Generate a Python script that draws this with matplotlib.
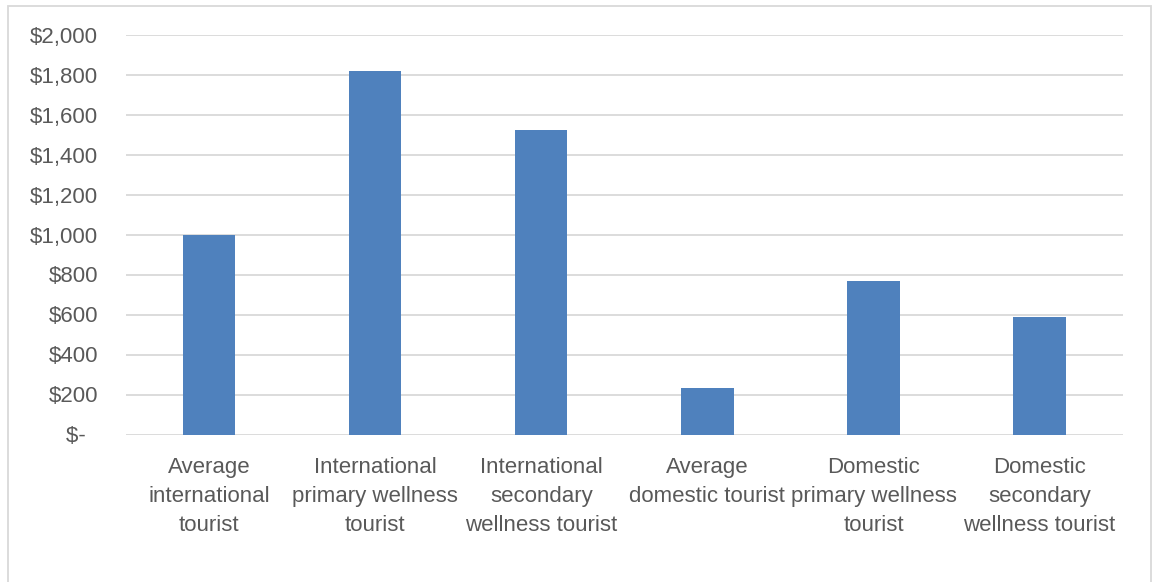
import matplotlib.pyplot as plt
from matplotlib.patches import Rectangle
from matplotlib.ticker import FuncFormatter

categories = ['Average\ninternational\ntourist',
              'International\nprimary wellness\ntourist',
              'International\nsecondary\nwellness tourist',
              'Average\ndomestic tourist',
              'Domestic\nprimary wellness\ntourist',
              'Domestic\nsecondary\nwellness tourist']
spending = [1000, 1820, 1525, 235, 770, 590]
y_ticks = [0, 200, 400, 600, 800, 1000, 1200, 1400, 1600, 1800, 2000]

bar_color = '#4F81BD'
grid_color = '#D9D9D9'
text_color = '#595959'

plt.rcParams['font.family'] = ['Liberation Sans', 'DejaVu Sans']

fig = plt.figure(figsize=(11.52, 5.82), dpi=100)
ax = fig.add_axes([126 / 1152, 1 - 434.5 / 582, (1122.7 - 126) / 1152, (434.5 - 34.5) / 582])

x = range(len(categories))
ax.bar(x, spending, width=0.315, color=bar_color, zorder=3)

ax.set_xlim(-0.5, len(categories) - 0.5)
ax.set_ylim(0, 2000)
ax.set_yticks(y_ticks)
# accounting style: zero shown as "$-" with trailing padding
ax.yaxis.set_major_formatter(FuncFormatter(lambda v, p: '$-  ' if v == 0 else f'${v:,.0f}'))
ax.grid(axis='y', color=grid_color, linewidth=1.3, zorder=0)
ax.set_xticks(list(x))
ax.set_xticklabels(categories, linespacing=1.5)

for s in ax.spines.values():
    s.set_visible(False)
ax.tick_params(axis='both', length=0, labelsize=16, colors=text_color)
ax.tick_params(axis='y', pad=20)
ax.tick_params(axis='x', pad=16)

# outer chart border
fig.patches.append(Rectangle((8 / 1152, -0.05), (1150.7 - 8) / 1152, 1.05 - 6 / 582,
                             transform=fig.transFigure, fill=False,
                             edgecolor=grid_color, linewidth=1.3))

fig.savefig('out.png', dpi=100, facecolor='white')
